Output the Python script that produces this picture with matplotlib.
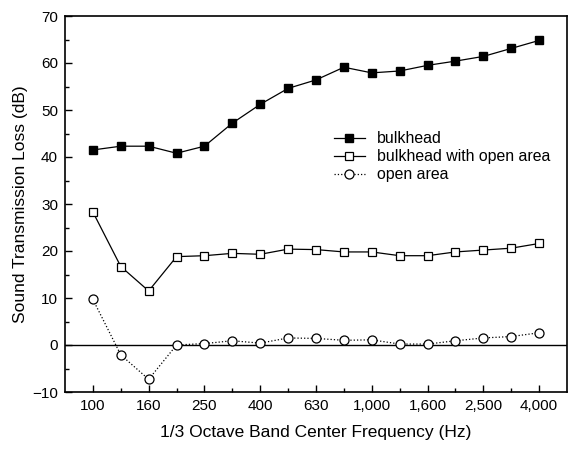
import matplotlib
matplotlib.use("Agg")
import matplotlib.pyplot as plt
from matplotlib.ticker import MultipleLocator

plt.rcParams['font.family'] = ['Liberation Sans', 'DejaVu Sans']

freqs = ["100", "125", "160", "200", "250", "315", "400", "500", "630", "800",
         "1,000", "1,250", "1,600", "2,000", "2,500", "3,150", "4,000"]
bulkhead = [41.5, 42.3, 42.3, 40.8, 42.3, 47.2, 51.2, 54.6, 56.4, 59.1,
            57.9, 58.3, 59.5, 60.4, 61.4, 63.1, 64.8]
bulkhead_open = [28.3, 16.7, 11.5, 18.8, 19.0, 19.5, 19.3, 20.4, 20.3, 19.8,
                 19.8, 19.0, 19.0, 19.8, 20.2, 20.6, 21.6]
open_area = [9.7, -2.1, -7.3, 0.0, 0.3, 0.9, 0.4, 1.5, 1.4, 1.0,
             1.1, 0.2, 0.2, 0.9, 1.5, 1.8, 2.6]

fig = plt.figure(figsize=(5.68, 4.49), dpi=100)
ax = fig.add_axes([65/568, 57/449, 502/568, 376/449])

x = list(range(len(freqs)))
ax.axhline(0, color='black', lw=1.0, zorder=1)
ax.plot(x, bulkhead, '-', color='black', lw=0.9, marker='s', ms=5.3,
        mfc='black', mec='black', label='bulkhead', zorder=3)
ax.plot(x, bulkhead_open, '-', color='black', lw=0.9, marker='s', ms=5.3,
        mfc='white', mec='black', mew=0.9, label='bulkhead with open area', zorder=3)
ax.plot(x, open_area, ':', color='black', lw=0.9, marker='o', ms=6.5,
        mfc='white', mec='black', mew=0.9, label='open area', zorder=3)

ax.set_xlim(-1, 17)
ax.set_ylim(-10, 70)
ax.set_xticks(x[::2])
ax.set_xticklabels(freqs[::2])
ax.set_xticks(x[1::2], minor=True)
ax.yaxis.set_major_locator(MultipleLocator(10))
ax.yaxis.set_minor_locator(MultipleLocator(5))
ax.tick_params(which='both', direction='in', labelsize=11, colors='black')
ax.tick_params(which='major', length=5, width=1, pad=5)
ax.tick_params(which='minor', length=3, width=1)
for s in ax.spines.values():
    s.set_linewidth(1.2)

ax.set_xlabel('1/3 Octave Band Center Frequency (Hz)', fontsize=12.5, labelpad=9)
ax.set_ylabel('Sound Transmission Loss (dB)', fontsize=12.5, labelpad=3)

leg = ax.legend(loc='upper left', bbox_to_anchor=(0.535, 0.694), frameon=False,
                fontsize=11.4, handlelength=2.0, handletextpad=0.75,
                labelspacing=0.2, borderaxespad=0, borderpad=0)

fig.savefig('out.png', dpi=100)
